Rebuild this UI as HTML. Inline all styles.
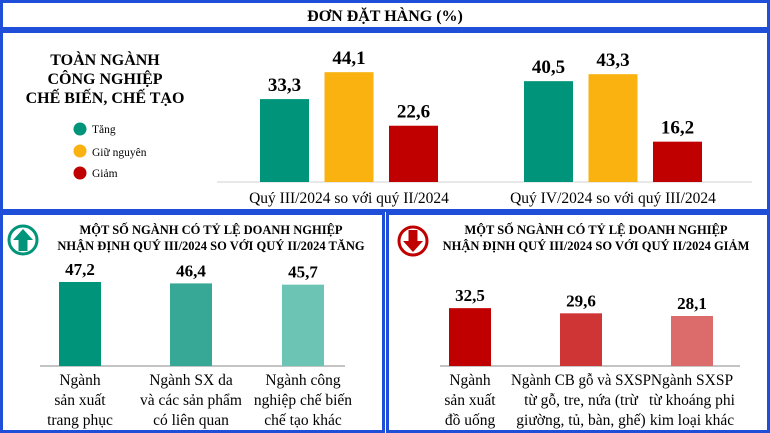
<!DOCTYPE html>
<html><head><meta charset="utf-8"><style>
body{margin:0;background:#fff;}
svg{display:block;font-family:"Liberation Serif","DejaVu Serif",serif;}
.b{font-weight:bold;}
</style></head><body>
<svg width="770" height="433" viewBox="0 0 770 433">
<rect x="0" y="0" width="770" height="433" fill="#fff"/>
<g fill="none" stroke="#1f4fd8" stroke-width="3">
<rect x="1.5" y="1.5" width="767" height="27"/>
<rect x="1.5" y="31.5" width="767" height="179"/>
<rect x="1.5" y="213.5" width="382" height="218"/>
<rect x="387.5" y="213.5" width="381" height="218"/>
</g>
<text x="385" y="21" text-anchor="middle" font-size="16" class="b">ĐƠN ĐẶT HÀNG (%)</text>
<g class="b" font-size="16" text-anchor="middle">
<text x="105" y="65">TOÀN NGÀNH</text>
<text x="105" y="84">CÔNG NGHIỆP</text>
<text x="105" y="103">CHẾ BIẾN, CHẾ TẠO</text>
</g>
<g font-size="11.5">
<circle cx="80" cy="129" r="6.5" fill="#00957a"/><text x="92" y="133">Tăng</text>
<circle cx="80" cy="151" r="6.5" fill="#f9b20f"/><text x="92" y="156">Giữ nguyên</text>
<circle cx="80" cy="173" r="6.5" fill="#c00000"/><text x="92" y="177">Giảm</text>
</g>
<g>
<circle cx="23" cy="240" r="14" fill="#fff" stroke="#00957a" stroke-width="3"/>
<polygon points="23,229 33,240 27.5,240 27.5,251 18.5,251 18.5,240 13,240" fill="#00957a"/>
</g>
<g>
<circle cx="413" cy="241" r="14" fill="#fff" stroke="#c00000" stroke-width="3"/>
<polygon points="413,252 423,241 417.5,241 417.5,230 408.5,230 408.5,241 403,241" fill="#c00000"/>
</g>
<g class="b" font-size="12.5" text-anchor="middle">
<text x="211" y="234">MỘT SỐ NGÀNH CÓ TỶ LỆ DOANH NGHIỆP</text>
<text x="211" y="250">NHẬN ĐỊNH QUÝ III/2024 SO VỚI QUÝ II/2024 TĂNG</text>
</g>
<g class="b" font-size="12.5" text-anchor="middle">
<text x="596" y="234">MỘT SỐ NGÀNH CÓ TỶ LỆ DOANH NGHIỆP</text>
<text x="596" y="250">NHẬN ĐỊNH QUÝ III/2024 SO VỚI QUÝ II/2024 GIẢM</text>
</g>
<g id="charts"></g>
</svg>
<script>
const topGroups=["Quý III/2024 so với quý II/2024","Quý IV/2024 so với quý III/2024"];
const tangVals=[33.3,40.5];
const giuVals=[44.1,43.3];
const giamVals=[22.6,16.2];
const upCats=[["Ngành","sản xuất","trang phục"],["Ngành SX da","và các sản phẩm","có liên quan"],["Ngành công","nghiệp chế biến","chế tạo khác"]];
const upVals=[47.2,46.4,45.7];
const downCats=[["Ngành","sản xuất","đồ uống"],["Ngành CB gỗ và SXSP","từ gỗ, tre, nứa (trừ","giường, tủ, bàn, ghế)"],["Ngành SXSP","từ khoáng phi","kim loại khác"]];
const downVals=[32.5,29.6,28.1];

const NS="http://www.w3.org/2000/svg";
const g=document.getElementById('charts');
function mk(tag,attrs,parent){const e=document.createElementNS(NS,tag);for(const k in attrs)e.setAttribute(k,attrs[k]);(parent||g).appendChild(e);return e;}
const fmt=v=>v.toFixed(1).replace('.',',');

const topBase=182,topScale=2.49;
const yTop=v=>topBase-v*topScale;
const line1=mk('line',{x1:217,x2:752,y1:topBase,y2:topBase,stroke:'#d0d0d0','stroke-width':1});


const topColors=['#00957a','#f9b20f','#c00000'];
const series=[tangVals,giuVals,giamVals];
const groupX=[260,524];
topGroups.forEach((name,gi)=>{
  series.forEach((arr,si)=>{
    const x=groupX[gi]+si*64.5,w=49,v=arr[gi];
    const r=mk('rect',{x:x,y:yTop(v),width:w,height:v*topScale,fill:topColors[si]});
    
    
    const t=mk('text',{x:x+w/2,y:yTop(v)-8,'text-anchor':'middle','font-size':19,'font-weight':'bold'});
    t.textContent=fmt(v);
    
    
  });
  const l=mk('text',{x:groupX[gi]+89,y:203,'text-anchor':'middle','font-size':15.5});
  l.textContent=name;
  
  
});

const botBase=366,botScale=1.78;
function bottom(cats,vals,xs,colors,prefix,lx1,lx2,condensed){
  const bl=mk('line',{x1:lx1,x2:lx2,y1:botBase,y2:botBase,stroke:'#888','stroke-width':1});
  
  
  vals.forEach((v,i)=>{
    const x=xs[i],w=42,y=botBase-v*botScale;
    const r=mk('rect',{x:x,y:y,width:w,height:v*botScale,fill:colors[i]});
    
    
    const t=mk('text',{x:x+w/2,y:y-7,'text-anchor':'middle','font-size':17,'font-weight':'bold'});
    t.textContent=fmt(v);
    
    
    cats[i].forEach((ln,j)=>{
      const c=mk('text',{x:x+w/2,y:385+j*20,'text-anchor':'middle','font-size':15.5});
      c.textContent=ln;
      
      
      if(condensed){
        const maxW=140;
        if(c.getComputedTextLength()>maxW){c.setAttribute('textLength',maxW);c.setAttribute('lengthAdjust','spacingAndGlyphs');}
      }
    });
  });
}
bottom(upCats,upVals,[59,170,282],['#00957a','#37a896','#6cc4b5'],'up',40,345,false);
bottom(downCats,downVals,[449,560,671],['#c00000','#d03535','#dc6b6b'],'down',440,740,true);
</script>
</body></html>
